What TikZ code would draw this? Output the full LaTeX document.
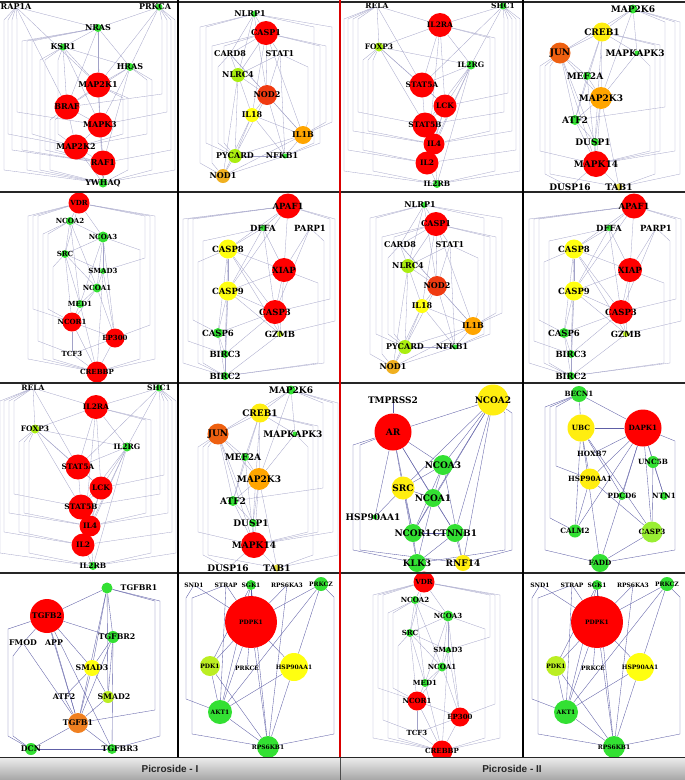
\documentclass[tikz,border=0pt]{standalone}
\usepackage{fontspec}
\setmainfont{DejaVu Serif}
\newfontfamily\barfont{Liberation Sans}
\usetikzlibrary{calc}
\pgfdeclarelayer{back}
\pgfdeclarelayer{bg}
\pgfsetlayers{back,bg,main}
\definecolor{edgec}{HTML}{A2A2C8}
\definecolor{edged}{HTML}{5E5EA6}
\definecolor{cred}{HTML}{FF0000}
\definecolor{corange}{HTML}{FFA500}
\definecolor{cjun}{HTML}{EE6010}
\definecolor{cnod2}{HTML}{F03A10}
\definecolor{cyel}{HTML}{FFFF10}
\definecolor{ccreb}{HTML}{FFEE10}
\definecolor{cyg}{HTML}{AAEE10}
\definecolor{cgreen}{HTML}{33E033}
\definecolor{cnod1}{HTML}{F0B020}
\definecolor{ctab}{HTML}{E8E040}
\definecolor{ctgfb}{HTML}{F08020}
\definecolor{ccasp}{HTML}{99EE33}
\definecolor{ygreen}{HTML}{BBEE22}
\newcommand\labsz{7}
\tikzset{
  edge/.style={draw=edgec,line width=0.3pt},
  lab/.style={font=\fontsize{\labsz}{\labsz}\selectfont\bfseries,inner sep=0pt,text=black},
}
\newcommand\GN[7][]{\node[circle,fill=#5,minimum size=#6pt,inner sep=0pt,label={[lab,#1]center:#7}] (#2) at (#3,#4) {};}
\newcommand\EL[1]{\foreach \pa/\pb in {#1}{\draw[edge] (\pa) -- (\pb);}}
\newcommand\RR[1]{\foreach \pa/\pb/\pc in {#1}{\coordinate (ch) at (\pc,0); \draw[edge] (\pa) -- ($(\pa -| ch)+(0,13)$) -- ($(\pb -| ch)+(0,-13)$) -- (\pb);}}
% ---------- networks ----------
\newcommand\netA{%
\def\labsz{8}%
\GN{rap}{16}{7}{none}{3}{RAP1A}
\GN[xshift=-4pt]{prkca}{159}{7}{cgreen}{7}{PRKCA}
\GN{nras}{98}{28}{cgreen}{8}{NRAS}
\GN{ksr1}{63}{47}{cgreen}{7}{KSR1}
\GN{hras}{130}{67}{cgreen}{8}{HRAS}
\GN{map2k1}{98}{85}{cred}{25}{MAP2K1}
\GN{braf}{67}{107}{cred}{25}{BRAF}
\GN{mapk3}{100}{125}{cred}{25}{MAPK3}
\GN{map2k2}{76}{147}{cred}{25}{MAP2K2}
\GN{raf1}{103}{163}{cred}{25}{RAF1}
\GN{ywhaq}{103}{183}{cgreen}{9}{YWHAQ}
\begin{pgfonlayer}{bg}
\EL{nras/ksr1,nras/hras,nras/map2k1,nras/braf,nras/mapk3,ksr1/hras,ksr1/map2k1,ksr1/braf,hras/map2k1,hras/braf,hras/mapk3,map2k1/braf,map2k1/mapk3,map2k1/raf1,braf/mapk3,braf/map2k2,mapk3/map2k2,mapk3/raf1,map2k2/raf1,raf1/ywhaq,map2k2/ywhaq,prkca/nras,prkca/hras,rap/map2k1,rap/braf,prkca/map2k1,ksr1/mapk3,hras/raf1,rap/nras,mapk3/ywhaq}
\RR{rap/ywhaq/4,rap/map2k2/8,rap/raf1/12,rap/mapk3/17,nras/raf1/22,nras/ywhaq/27,nras/map2k2/32,ksr1/ywhaq/40,ksr1/raf1/45,braf/ywhaq/50,braf/raf1/55,prkca/ywhaq/175,prkca/raf1/171,prkca/mapk3/167,prkca/braf/162,hras/ywhaq/152,hras/map2k2/147,map2k1/ywhaq/128,map2k1/map2k2/123,ksr1/map2k2/58}
\end{pgfonlayer}}
\newcommand\netB{%
\def\labsz{8}%
\GN[xshift=-4pt]{nlrp1}{254}{14}{cgreen}{6}{NLRP1}
\GN{casp1}{266}{33}{cred}{24}{CASP1}
\GN{card8}{230}{54}{none}{3}{CARD8}
\GN{stat1}{280}{54}{none}{3}{STAT1}
\GN{nlrc4}{238}{75}{cyg}{14}{NLRC4}
\GN{nod2}{267}{95}{cnod2}{20}{NOD2}
\GN{il18}{252}{115}{cyel}{14}{IL18}
\GN{il1b}{303}{135}{corange}{18}{IL1B}
\GN{pycard}{235}{156}{cyg}{14}{PYCARD}
\GN[xshift=-3pt]{nfkb1}{285}{156}{cgreen}{5}{NFKB1}
\GN{nod1}{223}{176}{cnod1}{14}{NOD1}
\begin{pgfonlayer}{bg}
\EL{nlrp1/casp1,nlrp1/card8,nlrp1/nlrc4,casp1/card8,casp1/stat1,casp1/nlrc4,casp1/nod2,casp1/il18,casp1/il1b,card8/nlrc4,card8/nod2,stat1/nod2,stat1/nlrc4,nlrc4/nod2,nlrc4/il18,nlrc4/pycard,nod2/il18,nod2/il1b,nod2/pycard,nod2/nfkb1,il18/pycard,il18/nfkb1,il18/il1b,il1b/pycard,il1b/nfkb1,pycard/nod1,pycard/nfkb1,nod1/nfkb1,nod1/il1b,stat1/nfkb1,il18/nod1,nlrc4/nod1,card8/il1b,nlrp1/nod2}
\RR{nlrp1/nod1/200,nlrp1/pycard/206,casp1/nod1/212,card8/pycard/218,casp1/pycard/224,nlrp1/il1b/332,casp1/nfkb1/320,casp1/il1b/326,nlrp1/nfkb1/314,stat1/il1b/308}
\end{pgfonlayer}}
\newcommand\netC{%
\def\labsz{7.5}%
\GN{rela}{377}{6}{none}{3}{RELA}
\GN{shc1}{503}{6}{cgreen}{7}{SHC1}
\GN{il2ra}{440}{25}{cred}{24}{IL2RA}
\GN{foxp3}{379}{47}{cyg}{9}{FOXP3}
\GN{il2rg}{471}{65}{cgreen}{9}{IL2RG}
\GN{stat5a}{422}{85}{cred}{25}{STAT5A}
\GN{lck}{445}{106}{cred}{23}{LCK}
\GN{stat5b}{425}{125}{cred}{25}{STAT5B}
\GN{il4}{434}{144}{cred}{21}{IL4}
\GN{il2}{427}{163}{cred}{23}{IL2}
\GN{il2rb}{437}{184}{cgreen}{8}{IL2RB}
\begin{pgfonlayer}{bg}
\EL{rela/il2ra,rela/foxp3,shc1/il2ra,shc1/il2rg,il2ra/foxp3,il2ra/stat5a,il2ra/lck,il2ra/il2rg,foxp3/il2rg,foxp3/stat5a,foxp3/lck,foxp3/stat5b,il2rg/stat5a,il2rg/lck,il2rg/stat5b,stat5a/lck,stat5a/stat5b,lck/stat5b,lck/il4,stat5b/il4,il4/il2,stat5b/il2,il2/il2rb,il4/il2rb,lck/il2,il2rg/il2,il2rg/il4,il2rg/il2rb,il2ra/il2,rela/stat5a,shc1/stat5a}
\RR{rela/il2rb/344,rela/il2/348,rela/il4/353,rela/stat5b/358,foxp3/il2/363,foxp3/il4/368,foxp3/il2rb/373,shc1/il2rb/520,shc1/il2/516,shc1/il4/512,shc1/lck/508,shc1/stat5b/504,il2ra/il2rb/495,il2ra/il4/490}
\end{pgfonlayer}}
\newcommand\netD{%
\def\labsz{9}%
\GN{map2k6}{633}{9}{cgreen}{9}{MAP2K6}
\GN{creb1}{602}{32}{ccreb}{19}{CREB1}
\GN{jun}{560}{53}{cjun}{21}{JUN}
\GN[xshift=-2pt]{mapkapk3}{637}{53}{cgreen}{5}{MAPKAPK3}
\GN[xshift=-2pt]{mef2a}{587}{76}{cgreen}{8}{MEF2A}
\GN{map2k3}{601}{98}{corange}{22}{MAP2K3}
\GN{atf2}{575}{120}{cgreen}{10}{ATF2}
\GN[xshift=-2pt]{dusp1}{595}{142}{cgreen}{8}{DUSP1}
\GN{mapk14}{596}{164}{cred}{26}{MAPK14}
\GN{dusp16}{570}{187}{none}{3}{DUSP16}
\GN{tab1}{619}{187}{ctab}{7}{TAB1}
\begin{pgfonlayer}{bg}
\EL{map2k6/creb1,map2k6/mapkapk3,map2k6/map2k3,creb1/jun,creb1/mef2a,creb1/map2k3,creb1/mapkapk3,creb1/atf2,jun/mef2a,jun/map2k3,jun/atf2,jun/dusp1,mapkapk3/map2k3,mef2a/map2k3,mef2a/atf2,map2k3/atf2,map2k3/dusp1,map2k3/mapk14,atf2/dusp1,atf2/mapk14,dusp1/mapk14,mapk14/dusp16,mapk14/tab1,jun/mapk14,map2k3/tab1,creb1/dusp1,mef2a/mapk14,map2k6/jun}
\RR{jun/dusp16/545,jun/tab1/550,jun/mapk14/540,map2k6/mapk14/675,map2k6/tab1/680,map2k6/atf2/665,creb1/mapk14/660,creb1/tab1/655,mapkapk3/mapk14/650}
\end{pgfonlayer}}
\newcommand\netE{%
\def\labsz{7}%
\GN{vdr}{79}{203}{cred}{21}{VDR}
\GN{ncoa2}{70}{221}{cgreen}{8}{NCOA2}
\GN{ncoa3}{103}{237}{cgreen}{11}{NCOA3}
\GN{src}{65}{254}{cgreen}{8}{SRC}
\GN{smad3}{103}{271}{cgreen}{6}{SMAD3}
\GN{ncoa1}{97}{288}{cgreen}{9}{NCOA1}
\GN{med1}{80}{304}{cgreen}{8}{MED1}
\GN{ncor1}{72}{322}{cred}{19}{NCOR1}
\GN{ep300}{115}{338}{cred}{19}{EP300}
\GN{tcf3}{72}{354}{none}{3}{TCF3}
\GN{crebbp}{97}{372}{cred}{21}{CREBBP}
\begin{pgfonlayer}{bg}
\EL{vdr/ncoa2,vdr/ncoa3,vdr/src,ncoa2/ncoa3,ncoa2/src,ncoa2/ncoa1,ncoa2/med1,ncoa3/src,ncoa3/smad3,ncoa3/ncoa1,ncoa3/med1,src/smad3,src/ncoa1,src/med1,src/ncor1,smad3/ncoa1,smad3/ep300,ncoa1/med1,ncoa1/ncor1,ncoa1/ep300,med1/ncor1,ncor1/ep300,ncor1/tcf3,ncor1/crebbp,ep300/crebbp,tcf3/crebbp,tcf3/ep300,ncoa3/ep300,med1/crebbp,smad3/crebbp}
\RR{vdr/crebbp/28,vdr/ncor1/33,vdr/tcf3/38,ncoa2/crebbp/43,ncoa2/ncor1/48,src/crebbp/53,vdr/ep300/150,vdr/crebbp/155,ncoa3/crebbp/140,vdr/smad3/145}
\end{pgfonlayer}}
\newcommand\netF{%
\def\labsz{8.5}%
\GN{apaf1}{288}{206}{cred}{25}{APAF1}
\GN{dffa}{263}{228}{cgreen}{6}{DFFA}
\GN{parp1}{310}{228}{none}{3}{PARP1}
\GN{casp8}{228}{249}{cyel}{19}{CASP8}
\GN{xiap}{284}{270}{cred}{24}{XIAP}
\GN{casp9}{228}{291}{cyel}{19}{CASP9}
\GN{casp3}{275}{312}{cred}{24}{CASP3}
\GN{casp6}{218}{333}{cgreen}{10}{CASP6}
\GN{gzmb}{280}{334}{ygreen}{6}{GZMB}
\GN{birc3}{225}{354}{cgreen}{8}{BIRC3}
\GN{birc2}{225}{376}{cgreen}{8}{BIRC2}
\begin{pgfonlayer}{bg}
\EL{apaf1/dffa,apaf1/casp8,apaf1/xiap,apaf1/casp9,dffa/casp8,dffa/xiap,dffa/casp3,dffa/casp9,parp1/xiap,parp1/casp3,casp8/xiap,casp8/casp9,casp8/casp3,casp8/casp6,casp8/birc3,xiap/casp9,xiap/casp3,xiap/gzmb,casp9/casp3,casp9/casp6,casp9/birc3,casp9/gzmb,casp3/casp6,casp3/gzmb,casp3/birc3,casp6/birc3,birc3/birc2,casp6/birc2,gzmb/birc2,casp8/gzmb,casp9/birc2}
\RR{apaf1/birc2/183,apaf1/birc3/188,apaf1/casp6/193,casp8/birc2/198,dffa/birc2/203,apaf1/gzmb/335,apaf1/casp3/330,parp1/birc2/324,xiap/birc2/318}
\end{pgfonlayer}}
\newcommand\netG{%
\def\labsz{9}%
\GN{tmprss2}{393}{400}{none}{3}{TMPRSS2}
\GN{ncoa2}{493}{400}{ccreb}{31}{NCOA2}
\GN{ar}{393}{432}{cred}{37}{AR}
\GN{ncoa3}{443}{465}{cgreen}{20}{NCOA3}
\GN{src}{403}{488}{ccreb}{23}{SRC}
\GN{ncoa1}{433}{498}{cgreen}{18}{NCOA1}
\GN[xshift=-2pt]{hsp}{375}{517}{cgreen}{5}{HSP90AA1}
\GN{ncor1}{413}{533}{cgreen}{18}{NCOR1}
\GN{ctnnb1}{455}{533}{cgreen}{18}{CTNNB1}
\GN{klk3}{417}{563}{cgreen}{18}{KLK3}
\GN{rnf14}{463}{563}{ccreb}{16}{RNF14}
\begin{pgfonlayer}{bg}
\EL{tmprss2/ar,ar/ncoa2,ar/ncoa3,ar/src,ar/ncoa1,ncoa2/src,ncoa2/ncoa3,ncoa2/ncoa1,ncoa2/ncor1,ncoa2/ctnnb1,ncoa2/rnf14,ncoa3/src,ncoa3/ncoa1,ncoa3/ncor1,ncoa3/rnf14,src/hsp,src/ncoa1,src/ncor1,src/klk3,ncoa1/ncor1,ncoa1/ctnnb1,ncoa1/klk3,ncor1/ctnnb1,ncor1/klk3,ctnnb1/klk3,ctnnb1/rnf14,ar/hsp,ar/ctnnb1,ar/ncor1}
\RR{ar/klk3/353,ar/rnf14/360,ncoa2/klk3/505,ncoa2/rnf14/512}
\end{pgfonlayer}}
\newcommand\netH{%
\def\labsz{7.2}%
\GN{becn1}{579}{394}{cgreen}{16}{BECN1}
\GN{ubc}{581}{428}{ccreb}{27}{UBC}
\GN{dapk1}{643}{428}{cred}{37}{DAPK1}
\GN{hoxb7}{592}{454}{none}{3}{HOXB7}
\GN{unc5b}{653}{462}{cgreen}{12}{UNC5B}
\GN{hsp}{590}{479}{ccreb}{21}{HSP90AA1}
\GN{pdcd6}{622}{496}{cgreen}{8}{PDCD6}
\GN{ntn1}{664}{496}{cgreen}{8}{NTN1}
\GN{calm2}{575}{531}{cgreen}{13}{CALM2}
\GN{casp3}{652}{532}{ccasp}{21}{CASP3}
\GN{fadd}{600}{563}{cgreen}{18}{FADD}
\begin{pgfonlayer}{bg}
\EL{becn1/ubc,becn1/dapk1,ubc/dapk1,ubc/hsp,ubc/calm2,ubc/casp3,ubc/pdcd6,ubc/fadd,dapk1/hsp,dapk1/unc5b,dapk1/ntn1,dapk1/pdcd6,dapk1/casp3,dapk1/calm2,dapk1/fadd,unc5b/ntn1,unc5b/casp3,hsp/calm2,hsp/casp3,casp3/fadd,hoxb7/dapk1}
\RR{becn1/fadd/545,becn1/calm2/550,becn1/hsp/556,dapk1/fadd/675}
\end{pgfonlayer}}
\newcommand\netI{%
\def\labsz{7.8}%
\GN[xshift=32pt]{tgfbr1}{107}{588}{cgreen}{11}{TGFBR1}
\GN{tgfb2}{47}{616}{cred}{34}{TGFB2}
\GN{fmod}{23}{643}{none}{3}{FMOD}
\GN{app}{54}{643}{none}{3}{APP}
\GN[xshift=4pt]{tgfbr2}{113}{637}{cgreen}{12}{TGFBR2}
\GN{smad3}{92}{668}{cyel}{16}{SMAD3}
\GN{atf2}{64}{697}{none}{3}{ATF2}
\GN[xshift=6pt]{smad2}{108}{697}{ygreen}{12}{SMAD2}
\GN{tgfb1}{78}{723}{ctgfb}{20}{TGFB1}
\GN{dcn}{31}{749}{cgreen}{12}{DCN}
\GN[xshift=8pt]{tgfbr3}{112}{749}{cgreen}{10}{TGFBR3}
\begin{pgfonlayer}{bg}
\EL{tgfbr1/tgfb2,tgfbr1/tgfbr2,tgfbr1/smad3,tgfbr1/smad2,tgfbr1/tgfb1,tgfb2/fmod,tgfb2/app,tgfb2/tgfbr2,tgfb2/smad3,tgfb2/tgfb1,tgfb2/tgfbr3,tgfbr2/smad3,tgfbr2/smad2,tgfbr2/tgfb1,tgfbr2/tgfbr3,smad3/atf2,smad3/smad2,smad3/tgfb1,smad2/tgfb1,tgfb1/dcn,tgfb1/tgfbr3,fmod/tgfb1,app/tgfb1,dcn/tgfbr3,atf2/tgfb1}
\RR{tgfb2/dcn/8,fmod/dcn/13,tgfbr1/tgfbr3/160,tgfbr1/tgfb1/155}
\end{pgfonlayer}}
\newcommand\netJ{%
\def\labsz{6}%
\GN{snd1}{194}{585}{none}{3}{SND1}
\GN{strap}{226}{585}{none}{3}{STRAP}
\GN{sgk1}{251}{585}{cgreen}{10}{SGK1}
\GN{rps6ka3}{287}{585}{none}{3}{RPS6KA3}
\GN{prkcz}{321}{584}{cgreen}{14}{PRKCZ}
\GN{pdpk1}{251}{622}{cred}{52}{PDPK1}
\GN{pdk1}{210}{666}{ygreen}{20}{PDK1}
\GN{prkce}{247}{668}{none}{3}{PRKCE}
\GN{hsp}{294}{667}{cyel}{28}{HSP90AA1}
\GN{akt1}{220}{712}{cgreen}{24}{AKT1}
\GN{rps6kb1}{268}{747}{cgreen}{22}{RPS6KB1}
\begin{pgfonlayer}{bg}
\EL{pdpk1/snd1,pdpk1/strap,pdpk1/sgk1,pdpk1/rps6ka3,pdpk1/prkcz,pdpk1/pdk1,pdpk1/prkce,pdpk1/hsp,pdpk1/akt1,pdpk1/rps6kb1,akt1/sgk1,akt1/prkcz,akt1/pdk1,akt1/hsp,akt1/rps6kb1,akt1/strap,rps6kb1/sgk1,rps6kb1/rps6ka3,rps6kb1/pdk1,rps6kb1/hsp,sgk1/pdk1,prkcz/hsp}
\RR{snd1/akt1/186,strap/rps6kb1/192,prkcz/rps6kb1/334}
\end{pgfonlayer}}
\begin{document}
\begin{tikzpicture}[x=1pt,y=-1pt]
\useasboundingbox (0,0) rectangle (685,780);
\begin{pgfonlayer}{back}\fill[white] (0,0) rectangle (685,780);\end{pgfonlayer}
\begin{scope}[name prefix=p1-]\netA\end{scope}
\begin{scope}[name prefix=p2-]\netB\end{scope}
\begin{scope}[name prefix=p3-]\netC\end{scope}
\begin{scope}[name prefix=p4-]\netD\end{scope}
\begin{scope}[name prefix=p5-]\netE\end{scope}
\begin{scope}[name prefix=p6-]\netF\end{scope}
\begin{scope}[shift={(170,191)},name prefix=p7-]\netB\end{scope}
\begin{scope}[shift={(346,0)},name prefix=p8-]\netF\end{scope}
\begin{scope}[shift={(-344,382)},name prefix=p9-]\netC\end{scope}
\begin{scope}[shift={(-342,381)},name prefix=p10-]\netD\end{scope}
\begin{scope}[name prefix=p11-,edge/.style={draw=edged,line width=0.35pt}]\netG\end{scope}
\begin{scope}[name prefix=p12-,edge/.style={draw=edged,line width=0.35pt}]\netH\end{scope}
\begin{scope}[name prefix=p13-,edge/.style={draw=edged,line width=0.35pt}]\netI\end{scope}
\begin{scope}[name prefix=p14-,edge/.style={draw=edged,line width=0.35pt}]\netJ\end{scope}
\begin{scope}[shift={(345,379)},name prefix=p15-]\netE\end{scope}
\begin{scope}[shift={(346,0)},name prefix=p16-,edge/.style={draw=edged,line width=0.35pt}]\netJ\end{scope}
% grid
\foreach \yy in {1.5,192,382.5,573} {\draw[line width=2pt,black!85] (0,\yy) -- (685,\yy);}
\draw[line width=1.5pt,black!85] (0,757.5) -- (685,757.5);
\draw[line width=1.5pt,black] (178,0) -- (178,757);
\draw[line width=1.5pt,black] (523,0) -- (523,757);
\draw[line width=2pt,red!85!black] (340,0) -- (340,757);
% bottom bar
\shade[top color=black!8,bottom color=black!35] (0,758) rectangle (685,780);
\draw[black!70,line width=1pt] (340,758) -- (340,780);
\node[font=\barfont\bfseries\fontsize{10}{11}\selectfont,text=black!85] (pic1) at (170,769) {Picroside - I};
\node[font=\barfont\bfseries\fontsize{10}{11}\selectfont,text=black!85] (pic2) at (512,769) {Picroside - II};
\end{tikzpicture}
\end{document}
